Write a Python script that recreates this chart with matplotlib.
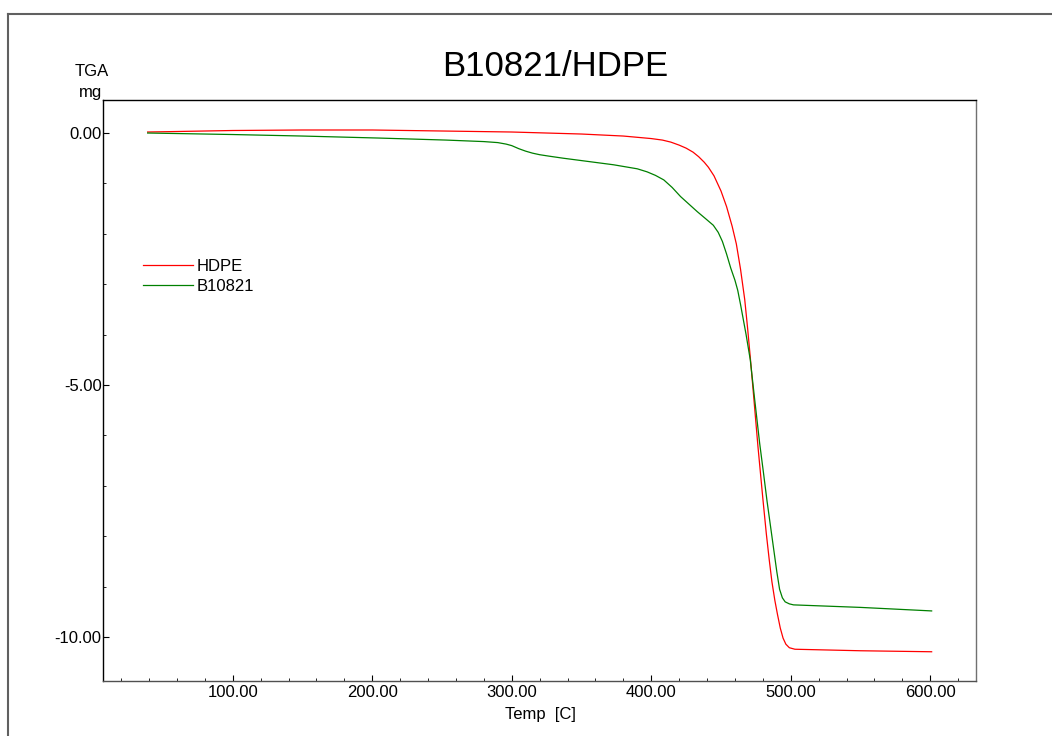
import numpy as np
import matplotlib
matplotlib.use('Agg')
import matplotlib.pyplot as plt
from matplotlib.lines import Line2D
from matplotlib.ticker import MultipleLocator, FormatStrFormatter

plt.rcParams['font.family'] = ['Liberation Sans', 'DejaVu Sans']

# HDPE curve (temperature C, mass change mg)
hdpe_t = [39, 60, 100, 150, 200, 250, 300, 350, 380, 400, 408, 414, 420, 425,
          430, 434, 438, 441, 445, 450, 454, 458, 461, 464, 467, 469, 471,
          473.5, 476.5, 480, 482.5, 484.6, 486.5, 488.6, 490.5, 492.5, 494.5,
          496.5, 499, 503, 550, 601]
hdpe_mg = [0.02, 0.03, 0.05, 0.06, 0.06, 0.04, 0.02, -0.02, -0.06, -0.11,
           -0.14, -0.18, -0.24, -0.30, -0.38, -0.47, -0.58, -0.68, -0.85,
           -1.15, -1.46, -1.85, -2.2, -2.7, -3.3, -3.85, -4.45, -5.25, -6.22,
           -7.25, -7.95, -8.47, -8.9, -9.27, -9.55, -9.82, -10.02, -10.14,
           -10.21, -10.24, -10.27, -10.29]

# B10821 curve
b_t = [39, 100, 150, 205, 253, 280, 290, 296, 300, 305, 310, 315, 320, 327,
       337, 373, 390, 397, 403, 409, 415, 421, 427, 433, 439, 444.5, 448,
       451, 454, 457, 460, 462, 464, 466, 468, 471, 474, 477.7, 480.5, 483,
       485.5, 488, 490, 492, 494, 496, 499, 502, 550, 601]
b_mg = [0.0, -0.03, -0.06, -0.10, -0.14, -0.17, -0.19, -0.22, -0.25, -0.31,
        -0.36, -0.40, -0.43, -0.46, -0.50, -0.63, -0.71, -0.77, -0.84,
        -0.93, -1.08, -1.26, -1.41, -1.56, -1.70, -1.83, -1.97, -2.15,
        -2.4, -2.68, -2.92, -3.12, -3.4, -3.7, -4.0, -4.5, -5.25, -6.15,
        -6.75, -7.3, -7.8, -8.3, -8.7, -9.05, -9.22, -9.3, -9.34, -9.36,
        -9.41, -9.48]

fig = plt.figure(figsize=(10.52, 7.36), dpi=100)
ax = fig.add_axes([103/1052, 1-681/736, 873/1052, 581/736])

ax.plot(hdpe_t, hdpe_mg, color='red', lw=0.9, label='HDPE')
ax.plot(b_t, b_mg, color='green', lw=0.9, label='B10821')

ax.set_xlim(7.0, 632.8)
ax.set_ylim(-10.87, 0.655)

ax.xaxis.set_major_locator(MultipleLocator(100))
ax.xaxis.set_minor_locator(MultipleLocator(20))
ax.yaxis.set_major_locator(MultipleLocator(5))
ax.yaxis.set_minor_locator(MultipleLocator(1))
ax.xaxis.set_major_formatter(FormatStrFormatter('%.2f'))
ax.yaxis.set_major_formatter(FormatStrFormatter('%.2f'))
ax.set_xticks([100, 200, 300, 400, 500, 600])

ax.tick_params(which='major', direction='in', length=4.5, width=0.8,
               labelsize=12, pad=3)
ax.tick_params(which='minor', direction='in', length=2.3, width=0.6)
ax.tick_params(axis='y', which='major', pad=1)

ax.spines['top'].set_color('black')
ax.spines['left'].set_color('black')
ax.spines['right'].set_color('#707070')
ax.spines['bottom'].set_color('#505050')
for s in ax.spines.values():
    s.set_linewidth(1.0)

ax.legend(loc='upper left', bbox_to_anchor=(0.0458, 0.727), frameon=False,
          fontsize=12, handlelength=3.0, handletextpad=0.2, borderpad=0,
          borderaxespad=0, labelspacing=0.3)

fig.text(555/1052, 1-67/736, 'B10821/HDPE', fontsize=25, ha='center', va='center')
fig.text(92/1052, 1-72/736, 'TGA', fontsize=12, ha='center', va='center')
fig.text(91/1052, 1-93/736, 'mg', fontsize=12, ha='center', va='center')
fig.text(540/1052, 1-714/736, 'Temp  [C]', fontsize=12, ha='center', va='center')

# outer frame of the report page
fig.add_artist(Line2D([8/1052, 1.0], [1-13.5/736, 1-13.5/736], color='#606060', lw=1.5))
fig.add_artist(Line2D([8/1052, 8/1052], [0.0, 1-13.5/736], color='#606060', lw=1.5))

fig.savefig('out.png', dpi=100)
